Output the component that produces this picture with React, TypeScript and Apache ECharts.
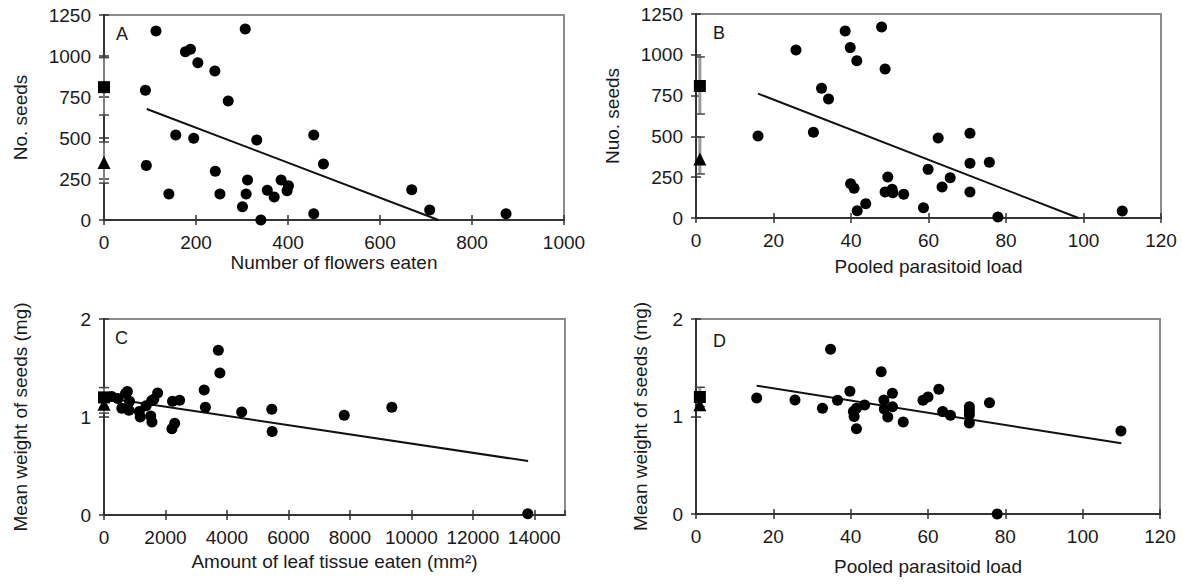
import React, { useEffect, useRef } from "react";
import * as echarts from "echarts";

const FONT = "'Liberation Sans', Arial, Helvetica, sans-serif";

// Panel A: number of flowers eaten vs number of seeds
const aFlowers = [113, 307, 177, 188, 204, 241, 90, 270, 156, 195, 332, 92, 242, 141, 252, 312, 309, 301, 341, 355, 370, 385, 401, 398, 456, 477, 456, 669, 708, 874];
const aSeeds = [1152, 1165, 1026, 1041, 959, 909, 791, 726, 518, 498, 488, 333, 297, 159, 159, 244, 159, 81, 0, 181, 140, 244, 209, 179, 518, 341, 38, 185, 61, 38];
const aFit = [[93, 677], [727, 0]];
const aSquare = [0, 810, 640, 990];
const aTriangle = [0, 350, 225, 476];

// Panel B: pooled parasitoid load vs number of seeds
const bLoad = [25.8, 38.5, 47.9, 39.8, 41.5, 48.8, 32.4, 34.2, 16, 30.3, 39.9, 40.8, 41.6, 43.8, 49.5, 62.5, 70.7, 75.7, 70.7, 59.9, 65.6, 63.5, 70.7, 48.8, 50.6, 50.8, 53.6, 58.7, 77.9, 110];
const bSeeds = [1029, 1146, 1170, 1044, 964, 913, 795, 729, 502, 525, 210, 182, 45, 88, 251, 490, 519, 341, 335, 298, 247, 190, 159, 159, 176, 155, 145, 63, 6, 43];
const bFit = [[16, 762], [98.7, 0]];
const bSquare = [1, 809, 637, 987];
const bTriangle = [1, 361, 270, 496];

// Panel C: leaf tissue eaten vs mean seed weight
const cLeaf = [100, 250, 450, 580, 700, 760, 830, 810, 1150, 1180, 1370, 1520, 1560, 1550, 1620, 1745, 2230, 2460, 2300, 2210, 3260, 3300, 3720, 3770, 4480, 5460, 5470, 7816, 9366, 13789];
const cWeight = [1.2, 1.21, 1.19, 1.09, 1.24, 1.26, 1.16, 1.07, 1.055, 1.0, 1.115, 1.01, 0.95, 1.165, 1.18, 1.245, 1.16, 1.17, 0.935, 0.88, 1.276, 1.1, 1.68, 1.45, 1.05, 1.078, 0.852, 1.017, 1.099, 0.013];
const cFit = [[0, 1.2], [13800, 0.55]];
const cSquare = [0, 1.2, 1.1, 1.3];
const cTriangle = [0, 1.13, 1.04, 1.21];

// Panel D: pooled parasitoid load vs mean seed weight
const dLoad = [15.7, 25.6, 32.7, 34.8, 36.6, 39.8, 40.7, 40.9, 41.5, 41.5, 43.6, 47.9, 48.6, 48.7, 49.6, 50.8, 50.8, 53.6, 58.7, 60, 62.8, 63.8, 65.8, 70.7, 70.7, 70.7, 70.7, 75.9, 77.9, 109.9];
const dWeight = [1.19, 1.17, 1.084, 1.69, 1.166, 1.258, 1.05, 1.0, 1.084, 0.875, 1.118, 1.46, 1.17, 1.077, 0.995, 1.238, 1.1, 0.944, 1.166, 1.2, 1.28, 1.05, 1.012, 1.1, 1.06, 1.018, 0.933, 1.142, 0, 0.851];
const dFit = [[15.7, 1.316], [110, 0.725]];
const dSquare = [1, 1.2, 1.1, 1.3];
const dTriangle = [1, 1.12, 1.07, 1.2];

const panels = [
  { letter: "A", xs: aFlowers, ys: aSeeds, fit: aFit, sq: aSquare, tri: aTriangle, xMax: 1000, xInt: 200, yMax: 1250, yInt: 250, xName: "Number of flowers eaten", yName: "No. seeds", xGap: 33, yGap: 74, errW: 1.5, grid: { left: 104, top: 15, width: 460, height: 205 }, lx: 116, ly: 25 },
  { letter: "B", xs: bLoad, ys: bSeeds, fit: bFit, sq: bSquare, tri: bTriangle, xMax: 120, xInt: 20, yMax: 1250, yInt: 250, xName: "Pooled parasitoid load", yName: "Nuo. seeds", xGap: 39, yGap: 74, errW: 3, grid: { left: 696, top: 14, width: 465, height: 204 }, lx: 713, ly: 24 },
  { letter: "C", xs: cLeaf, ys: cWeight, fit: cFit, sq: cSquare, tri: cTriangle, xMax: 15000, xInt: 2000, yMax: 2, yInt: 1, xName: "Amount of leaf tissue eaten (mm²)", yName: "Mean weight of seeds (mg)", xGap: 37, yGap: 74, errW: 1.5, grid: { left: 104, top: 319, width: 461, height: 196 }, lx: 115, ly: 329 },
  { letter: "D", xs: dLoad, ys: dWeight, fit: dFit, sq: dSquare, tri: dTriangle, xMax: 120, xInt: 20, yMax: 2, yInt: 1, xName: "Pooled parasitoid load", yName: "Mean weight of seeds (mg)", xGap: 43, yGap: 46, errW: 3, grid: { left: 696, top: 319, width: 464, height: 195 }, lx: 713, ly: 332 },
];

const AXIS_COLOR = "#333";
const TEXT_COLOR = "#1a1a1a";
const FS = 19;
const plain = (v: number) => String(v);

export default function App() {
  const ref = useRef<HTMLDivElement>(null);
  useEffect(() => {
    if (!ref.current) return;
    const chart = echarts.init(ref.current, null, { renderer: "svg" });
    const grid: any[] = [];
    const xAxis: any[] = [];
    const yAxis: any[] = [];
    const series: any[] = [];
    const graphic: any[] = [];

    panels.forEach((p, i) => {
      grid.push({ ...p.grid, show: true, borderColor: "#8c8c8c", borderWidth: 2, backgroundColor: "#fff" });
      const common = { type: "value", gridIndex: i, min: 0, splitLine: { show: false } };
      xAxis.push({
        ...common,
        max: p.xMax,
        interval: p.xInt,
        position: "bottom",
        axisLine: { show: true, lineStyle: { color: AXIS_COLOR, width: 2 } },
        axisTick: { show: true, inside: false, length: 5, lineStyle: { color: AXIS_COLOR, width: 1.5 } },
        axisLabel: { show: true, margin: 13, fontSize: FS, color: TEXT_COLOR, fontFamily: FONT, formatter: plain, showMaxLabel: p.xMax % p.xInt === 0 },
        name: p.xName,
        nameLocation: "middle",
        nameGap: p.xGap,
        nameTextStyle: { fontSize: FS, color: TEXT_COLOR, fontFamily: FONT },
      });
      xAxis.push({
        ...common,
        max: p.xMax,
        interval: p.xInt,
        position: "bottom",
        axisLine: { show: false },
        axisTick: { show: true, inside: true, length: 5, lineStyle: { color: AXIS_COLOR, width: 1.5 } },
        axisLabel: { show: false },
      });
      yAxis.push({
        ...common,
        max: p.yMax,
        interval: p.yInt,
        position: "left",
        axisLine: { show: true, lineStyle: { color: AXIS_COLOR, width: 2 } },
        axisTick: { show: true, inside: false, length: 5, lineStyle: { color: AXIS_COLOR, width: 1.5 } },
        axisLabel: { show: true, margin: 13, fontSize: FS, color: TEXT_COLOR, fontFamily: FONT, formatter: plain },
        name: p.yName,
        nameLocation: "middle",
        nameGap: p.yGap,
        nameTextStyle: { fontSize: FS, color: TEXT_COLOR, fontFamily: FONT },
      });
      yAxis.push({
        ...common,
        max: p.yMax,
        interval: p.yInt,
        position: "left",
        axisLine: { show: false },
        axisTick: { show: true, inside: true, length: 5, lineStyle: { color: AXIS_COLOR, width: 1.5 } },
        axisLabel: { show: false },
      });
      const xi = 2 * i;
      const yi = 2 * i;
      const errW = p.errW;
      series.push({
        type: "custom",
        xAxisIndex: xi,
        yAxisIndex: yi,
        clip: false,
        z: 1,
        encode: { x: 0, y: [1, 2] },
        data: [
          [p.sq[0], p.sq[2], p.sq[3]],
          [p.tri[0], p.tri[2], p.tri[3]],
        ],
        renderItem: (params: any, api: any) => {
          const x = api.value(0);
          const lo = api.coord([x, api.value(1)]);
          const hi = api.coord([x, api.value(2)]);
          return {
            type: "group",
            children: [
              { type: "line", shape: { x1: lo[0], y1: lo[1], x2: hi[0], y2: hi[1] }, style: { stroke: "#9a9a9a", lineWidth: errW } },
              { type: "line", shape: { x1: lo[0] - 5, y1: lo[1], x2: lo[0] + 5, y2: lo[1] }, style: { stroke: "#444", lineWidth: 1.5 } },
              { type: "line", shape: { x1: hi[0] - 5, y1: hi[1], x2: hi[0] + 5, y2: hi[1] }, style: { stroke: "#444", lineWidth: 1.5 } },
            ],
          };
        },
      });
      series.push({
        type: "line",
        xAxisIndex: xi,
        yAxisIndex: yi,
        data: p.fit,
        symbol: "none",
        z: 4,
        lineStyle: { color: "#111", width: 2 },
      });
      series.push({
        type: "scatter",
        xAxisIndex: xi,
        yAxisIndex: yi,
        clip: false,
        z: 5,
        symbol: "circle",
        symbolSize: 11,
        itemStyle: { color: "#000", opacity: 1 },
        data: p.xs.map((x, k) => [x, p.ys[k]]),
      });
      series.push({
        type: "scatter",
        xAxisIndex: xi,
        yAxisIndex: yi,
        clip: false,
        z: 5,
        symbol: "rect",
        symbolSize: 12,
        itemStyle: { color: "#000", opacity: 1 },
        data: [[p.sq[0], p.sq[1]]],
      });
      series.push({
        type: "scatter",
        xAxisIndex: xi,
        yAxisIndex: yi,
        clip: false,
        z: 5,
        symbol: "triangle",
        symbolSize: 13,
        itemStyle: { color: "#000", opacity: 1 },
        data: [[p.tri[0], p.tri[1]]],
      });
      graphic.push({
        type: "text",
        left: p.lx,
        top: p.ly,
        z: 10,
        style: { text: p.letter, fontSize: 18, fill: TEXT_COLOR, fontFamily: FONT },
      });
    });

    chart.setOption({
      animation: false,
      backgroundColor: "#fff",
      grid,
      xAxis,
      yAxis,
      series,
      graphic,
    });
    return () => chart.dispose();
  }, []);
  return (
    <div
      ref={ref}
      style={{ position: "fixed", left: 0, top: 0, width: 1183, height: 584, background: "#fff" }}
    />
  );
}
